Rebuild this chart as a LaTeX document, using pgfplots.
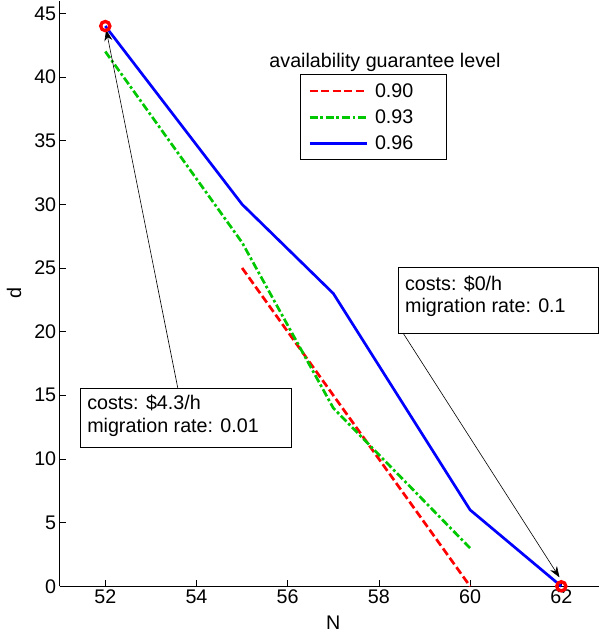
\documentclass[border=0pt]{standalone}
\usepackage{fontspec}
\setmainfont{Liberation Sans}
\usepackage{pgfplots}
\pgfplotsset{compat=1.18}
\usetikzlibrary{arrows.meta}
\definecolor{mgreen}{RGB}{0,200,0}

\begin{document}
\begin{tikzpicture}[font=\fontsize{19.7}{23.6}\selectfont]
\begin{axis}[
    name=ax,
    scale only axis,
    width=547.2pt, height=585.7pt,
    xmin=51, xmax=63, ymin=0, ymax=46,
    axis x line=bottom, axis y line=left,
    axis line style={-, line width=0.8pt},
    xtick={52,54,...,62}, ytick={0,5,...,45},
    tick align=inside, major tick length=6pt,
    tick style={black, line width=0.8pt},
    /pgf/number format/assume math mode=true,
    ticklabel style={font=\fontsize{19.7}{23.6}\selectfont},
    xlabel={N}, ylabel={d},
    xlabel style={at={(axis description cs:0.5,-0.0615)}, anchor=center},
    ylabel style={at={(axis description cs:-0.0835,0.5)}, anchor=center},
    legend style={at={(rel axis cs:0.439,0.874)}, anchor=north west,
        draw=black, line width=0.8pt, inner xsep=8pt, inner ysep=3pt,
        nodes={inner xsep=3pt, inner ysep=5.5pt},
        font=\fontsize{19.7}{23.6}\selectfont},
    legend cell align=left,
    legend image code/.code={\draw[#1] (0pt,0pt) -- (57pt,0pt);},
    clip=false,
]
% availability guarantee level 0.90
\addplot[red, line width=2.7pt, dash pattern=on 8pt off 3.5pt] coordinates {
    (55,25) (56,20) (57,15) (58,10) (59,5) (60,0)
};
\addlegendentry{\hspace*{4pt}\makebox[60pt][l]{0.90}}
% 0.93
\addplot[mgreen, line width=2.7pt, dash pattern=on 8pt off 2.7pt on 2.7pt off 2.7pt] coordinates {
    (52,42) (55,27) (57,14) (60,3)
};
\addlegendentry{\hspace*{4pt}\makebox[60pt][l]{0.93}}
% 0.96
\addplot[blue, line width=2.7pt] coordinates {
    (52,44) (55,30) (57,23) (60,6) (62,0)
};
\addlegendentry{\hspace*{4pt}\makebox[60pt][l]{0.96}}

% end points marked with red circles
\addplot[forget plot, only marks, red, mark=o, mark size=4.6pt,
    every mark/.append style={line width=3.3pt, draw=red}] coordinates {(52,44) (62,0)};

\node[anchor=base] at (rel axis cs:0.5945,0.8866) {availability guarantee level};

% annotations
\draw[line width=0.8pt, fill=white] (axis cs:51.445,10.94) rectangle (axis cs:56.09,15.57);
\node[anchor=base west, inner sep=0pt] at (axis cs:51.6,13.85) {costs: \$4.3/h};
\node[anchor=base west, inner sep=0pt] at (axis cs:51.6,12.04) {migration rate: 0.01};
\draw[line width=0.6pt, -{Stealth[length=11pt,width=8pt]}] (axis cs:53.59,15.57) -- (axis cs:52.02,43.7);

\draw[line width=0.8pt, fill=white] (axis cs:58.42,19.89) rectangle (axis cs:62.805,25.01);
\node[anchor=base west, inner sep=0pt] at (axis cs:58.57,23.27) {costs: \$0/h};
\node[anchor=base west, inner sep=0pt] at (axis cs:58.57,21.49) {migration rate: 0.1};
\draw[line width=0.6pt, -{Stealth[length=11pt,width=8pt]}] (axis cs:58.53,19.89) -- (axis cs:61.96,0.7);
\end{axis}
\pgfresetboundingbox
\path (ax.south west) ++(-59.7pt,-45.7pt) rectangle ++(599pt,632pt);
\end{tikzpicture}
\end{document}
